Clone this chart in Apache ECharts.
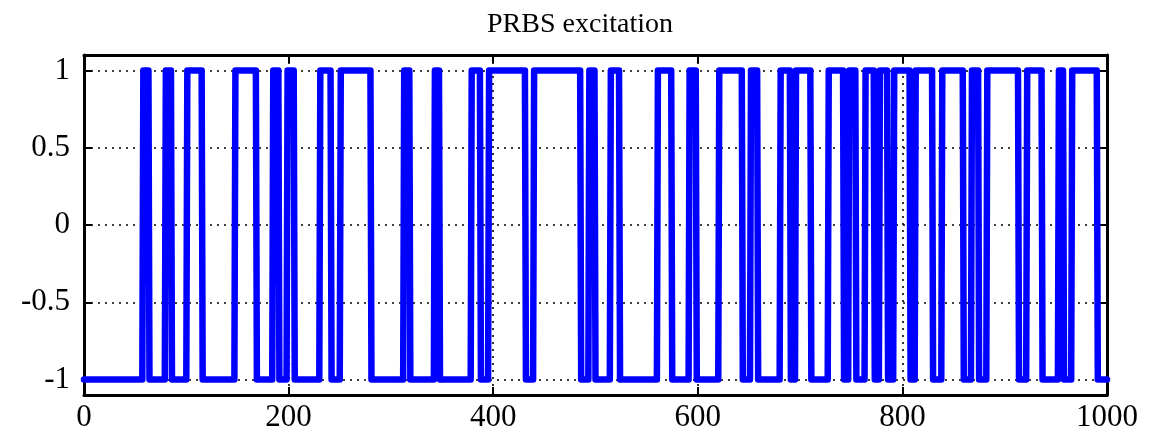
<!DOCTYPE html>
<html>
<head>
<meta charset="utf-8">
<script src="https://cdn.jsdelivr.net/npm/echarts@6/dist/echarts.min.js"></script>
<style>
html, body { margin: 0; padding: 0; background: #fff; }
#main { width: 1160px; height: 441px; }
</style>
</head>
<body>
<div id="main"></div>
<script>
// sample index at which the PRBS level flips (starts at -1, alternates)
var switchTimes = [58, 64, 80, 86, 101, 116, 148, 169, 185, 191, 199, 206,
  231, 242, 251, 281, 313, 319, 343, 348, 379, 388, 396, 432, 440, 486,
  494, 500, 515, 524, 561, 575, 592, 599, 621, 644, 652, 659, 681, 691,
  696, 711, 728, 743, 748, 755, 764, 773, 778, 786, 792, 808, 813, 830,
  839, 860, 868, 875, 883, 914, 922, 937, 953, 958, 966, 991];
var startLevel = -1;
var nSamples = 1000;
var xTicks = [0, 200, 400, 600, 800, 1000];
var yTicks = [-1, -0.5, 0, 0.5, 1];

// corner points of the square wave (each flip takes one sample)
var points = [[0, startLevel]];
var level = startLevel;
switchTimes.forEach(function (t) {
  points.push([t - 1, level]);
  level = -level;
  points.push([t, level]);
});
points.push([nSamples, level]);

var myChart = echarts.init(document.getElementById('main'));

var font = 'Liberation Serif, Times New Roman, serif';
var dotted = { show: true, lineStyle: { color: '#000', width: 1.6, type: [2, 5] } };
var tick = { show: true, inside: true, length: 8, lineStyle: { color: '#000', width: 2 } };
var axisLine = { show: true, onZero: false, lineStyle: { color: '#000', width: 3 } };

var option = {
  animation: false,
  backgroundColor: '#fff',
  title: {
    text: 'PRBS excitation',
    left: 'center',
    top: 6,
    textStyle: { fontFamily: font, fontWeight: 'normal', fontSize: 28, color: '#000' }
  },
  grid: { left: 84, right: 53, top: 55, bottom: 46 },
  xAxis: [
    {
      type: 'value', min: 0, max: 1000, interval: 200,
      axisLine: axisLine, axisTick: tick, splitLine: dotted,
      axisLabel: { color: '#000', fontFamily: font, fontSize: 31, margin: 7,
        customValues: xTicks,
        formatter: function (v) { return String(v); } },
      position: 'bottom'
    },
    {
      type: 'value', min: 0, max: 1000, interval: 200, position: 'top',
      axisLine: axisLine, axisTick: tick, splitLine: { show: false },
      axisLabel: { show: false }
    }
  ],
  yAxis: [
    {
      type: 'value', min: -1.1, max: 1.1,
      axisLine: axisLine,
      axisTick: { show: true, inside: true, length: 8, customValues: yTicks,
        lineStyle: { color: '#000', width: 2 } },
      splitLine: { show: false },
      axisLabel: { color: '#000', fontFamily: font, fontSize: 31, margin: 14,
        customValues: yTicks }
    },
    {
      type: 'value', min: -1.1, max: 1.1, position: 'right',
      axisLine: axisLine,
      axisTick: { show: true, inside: true, length: 8, customValues: yTicks,
        lineStyle: { color: '#000', width: 2 } },
      splitLine: { show: false },
      axisLabel: { show: false }
    }
  ],
  series: [
    {
      // dotted horizontal grid at the y ticks
      type: 'line',
      silent: true,
      data: [],
      markLine: {
        silent: true,
        symbol: 'none',
        label: { show: false },
        lineStyle: { color: '#000', width: 1.6, type: [2, 5] },
        data: yTicks.map(function (v) { return { yAxis: v }; })
      }
    },
    {
      name: 'PRBS',
      type: 'line',
      showSymbol: false,
      data: points,
      lineStyle: { color: '#0000ff', width: 6.5, cap: 'round', join: 'round' },
      z: 5
    }
  ]
};

myChart.setOption(option);
window.onresize = function () {
  myChart.resize();
};
</script>
</body>
</html>
